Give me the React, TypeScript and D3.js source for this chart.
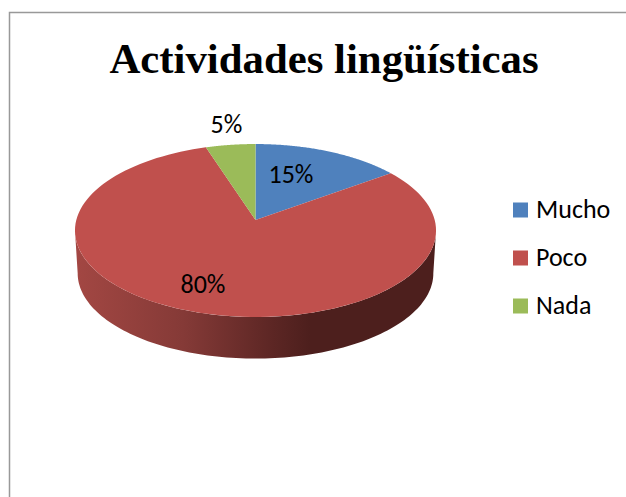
import React from "react";
import * as d3 from "d3";

const categories = ["Mucho", "Poco", "Nada"];
const values = [15, 80, 5];
const colors = ["#4F81BD", "#C0504D", "#9BBB59"];
const labelText = ["15%", "80%", "5%"];
const title = "Actividades lingüísticas";

const W = 626, H = 497;
const cx = 255.5, cy = 220;
const a = 179.2, k = 85.2, p = 0.1214;
const depth = 43;

// perspective projection of a unit-circle point onto the page
function project(angle: number, r = 1, scale = 1, dy = 0): [number, number] {
  const u = r * Math.sin(angle), v = -r * Math.cos(angle);
  const d = 1 - p * v;
  return [cx + (scale * a * u) / d, cy + dy + (scale * k * v) / d];
}

const arcs = d3.pie<number>().sort(null)(values);
const line = d3.line();
const sample = (s: number, e: number) => d3.range(0, 121).map(i => s + ((e - s) * i) / 120);

function slicePath(s: number, e: number) {
  return line([[cx, cy], ...sample(s, e).map(t => project(t))])! + "Z";
}
// wall visible between the widest points on the lower half of the ellipse
function wallPath() {
  const s = Math.PI / 2 + Math.asin(p), e = (3 * Math.PI) / 2 - Math.asin(p);
  const top = sample(s, e).map(t => project(t));
  const bottom = sample(s, e).reverse().map(t => project(t, 1, 0.985, depth));
  return line([...top, ...bottom])! + "Z";
}

const labelPos: [number, number][] = [[291, 182.5], [203, 292.5], [226.5, 132.5]];
const legendY = d3.scalePoint<string>().domain(categories).range([210, 306]);

export default function App() {
  return (
    <svg width={W} height={H} style={{ position: "absolute", left: 0, top: 0, background: "#fff" }}>
      <defs>
        <linearGradient id="wall" gradientUnits="userSpaceOnUse" x1={75} x2={436} y1={0} y2={0}>
          <stop offset="0" stopColor="#A34743" />
          <stop offset="0.3" stopColor="#853A37" />
          <stop offset="0.55" stopColor="#5C2624" />
          <stop offset="0.65" stopColor="#4D1F1D" />
          <stop offset="1" stopColor="#4D1F1D" />
        </linearGradient>
      </defs>
      <path d={`M${W},12.5H9.5V${H}`} fill="none" stroke="#999" strokeWidth={1.5} />
      <text x={324} y={73} textAnchor="middle" fontFamily="'Liberation Serif'" fontWeight="bold" fontSize={42.8} fill="#000">{title}</text>
      <path d={wallPath()} fill="url(#wall)" />
      {arcs.map((d, i) => (
        <path key={i} d={slicePath(d.startAngle, d.endAngle)} fill={colors[i]} />
      ))}
      {labelText.map((t, i) => (
        <text key={t} x={labelPos[i][0]} y={labelPos[i][1]} textAnchor="middle" fontFamily="Carlito, Lato" fontSize={26} fill="#000">{t}</text>
      ))}
      {categories.map((c, i) => (
        <g key={c}>
          <rect x={513} y={legendY(c)! - 7.5} width={15} height={15} fill={colors[i]} />
          <text x={536} y={legendY(c)! + 8} fontFamily="Carlito, Lato" fontSize={26} fill="#000">{c}</text>
        </g>
      ))}
    </svg>
  );
}
